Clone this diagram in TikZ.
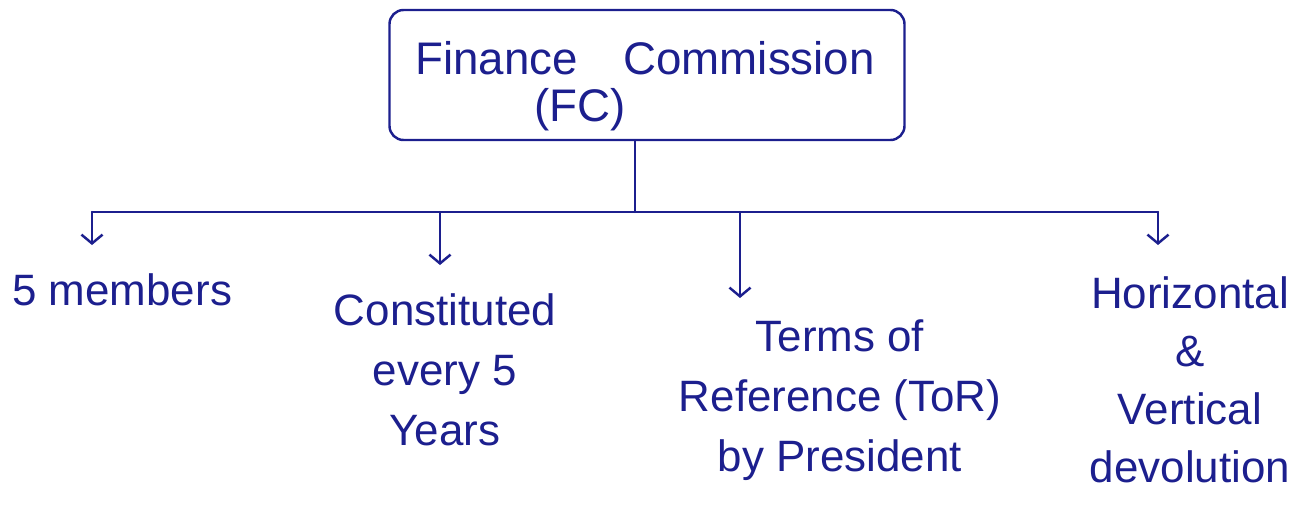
\documentclass[tikz,border=0pt]{standalone}
\usepackage{fontspec}
\setmainfont{Liberation Sans}
\usetikzlibrary{arrows.meta}
\definecolor{ink}{HTML}{1C1F8E}
\tikzset{
  ink line/.style={draw=ink, line width=1.4pt, line cap=round},
  drop/.style={ink line, -{Straight Barb[length=5pt,width=12pt,line width=1.4pt]}},
  label/.style={text=ink, font=\fontsize{25}{34}\selectfont, align=center, inner sep=0pt},
}
\begin{document}
\begin{tikzpicture}[x=0.02cm, y=-0.02cm]
\useasboundingbox (0,0) rectangle (1298,511);
% root box
\node[ink line, rounded corners=8pt, minimum width=515*0.02cm, minimum height=130*0.02cm] (fc) at (647,75) {};
\node[label, font=\fontsize{26}{34}\selectfont] (fct) at (645,58) {Finance\quad Commission};
\node[label, font=\fontsize{26}{34}\selectfont] (fcs) at (580,110) {(FC)};
% bus
\coordinate (stem) at (635,212);
\coordinate (bl) at (92,212);
\coordinate (br) at (1158,212);
\coordinate (b2) at (440,212);
\coordinate (b3) at (740,212);
\draw[ink line] (fc.south -| stem) -- (stem);
\draw[ink line] (bl) -- (br);
% leaves
\node[label, anchor=west] (m) at (12,290) {5 members};
\node[label] (c) at (445,370) {Constituted\\every 5\\Years};
\node[label] (t) at (840,400) {Terms of\\Reference (ToR)\\by President};
\node[label, font=\fontsize{25}{33}\selectfont] (h) at (1190,380) {Horizontal\\\&\\Vertical\\devolution};
\coordinate (e1) at (92,245);
\coordinate (e2) at (440,265);
\coordinate (e3) at (740,298);
\coordinate (e4) at (1158,245);
\draw[drop] (bl) -- (e1);
\draw[drop] (b2) -- (e2);
\draw[drop] (b3) -- (e3);
\draw[drop] (br) -- (e4);
\end{tikzpicture}
\end{document}
